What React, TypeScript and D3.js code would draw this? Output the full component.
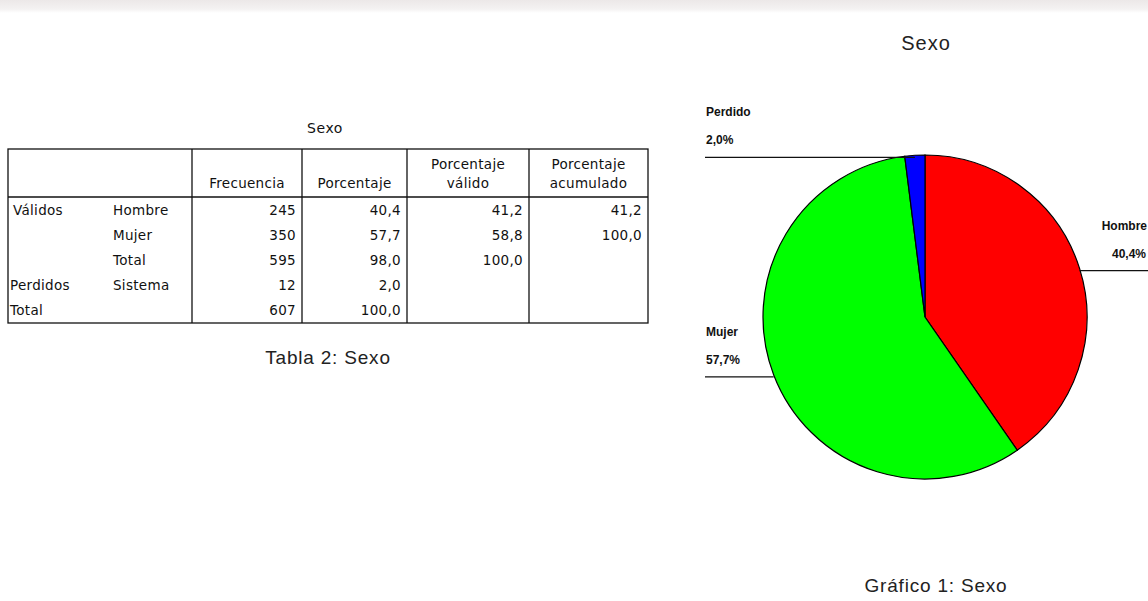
import React from "react";
import * as d3 from "d3";

const categories = ["Hombre", "Mujer", "Perdido"];
const piePercents = [40.4, 57.7, 2.0];
const pieLabels = ["40,4%", "57,7%", "2,0%"];
const pieColors = ["#ff0000", "#00ff00", "#0000ff"];

const headers = ["Frecuencia", "Porcentaje", "Porcentaje\nválido", "Porcentaje\nacumulado"];
const rowGroup = ["Válidos", "", "", "Perdidos", "Total"];
const rowSub = ["Hombre", "Mujer", "Total", "Sistema", ""];
const frecuencia = ["245", "350", "595", "12", "607"];
const porcentaje = ["40,4", "57,7", "98,0", "2,0", "100,0"];
const valido = ["41,2", "58,8", "100,0", "", ""];
const acumulado = ["41,2", "100,0", "", "", ""];

const W = 1148;
const H = 601;

export default function App() {
  // table geometry
  const tLeft = 8, tRight = 648, tTop = 149, hBottom = 197, tBottom = 323;
  const colEdges = [192, 302, 407, 529, tRight];
  const rowY = d3.scaleBand<number>().domain(d3.range(5)).range([hBottom, tBottom]);
  const cols = [frecuencia, porcentaje, valido, acumulado];
  const tableFont = "'DejaVu Sans', sans-serif";

  // pie
  const cx = 925, cy = 317, r = 162;
  const pie = d3.pie<number>().sort(null).value((d) => d);
  const arcs = pie(piePercents);
  const arc = d3.arc<d3.PieArcDatum<number>>().innerRadius(0).outerRadius(r);

  return (
    <svg width={W} height={H} style={{ position: "absolute", left: 0, top: 0, background: "#fff" }}>
      <defs>
        <linearGradient id="topfade" x1="0" y1="0" x2="0" y2="1">
          <stop offset="0" stopColor="#ece8e8" />
          <stop offset="0.7" stopColor="#f4f2f2" />
          <stop offset="1" stopColor="#ffffff" />
        </linearGradient>
      </defs>
      <rect x={0} y={0} width={W} height={H} fill="#fff" />
      <rect x={0} y={0} width={W} height={13} fill="url(#topfade)" />

      {/* Table */}
      <text x={325} y={133} textAnchor="middle" fontFamily={tableFont} fontSize={14} letterSpacing={0.6} fill="#111">
        Sexo
      </text>
      <rect x={tLeft} y={tTop} width={tRight - tLeft} height={tBottom - tTop} fill="none" stroke="#111" strokeWidth={1.3} />
      <line x1={tLeft} x2={tRight} y1={hBottom} y2={hBottom} stroke="#111" strokeWidth={1.3} />
      {colEdges.slice(0, 4).map((x, i) => (
        <line key={i} x1={x} x2={x} y1={tTop} y2={tBottom} stroke="#111" strokeWidth={1.3} />
      ))}
      {headers.map((h, i) => {
        const mid = (colEdges[i] + colEdges[i + 1]) / 2;
        const lines = h.split("\n");
        return (
          <text key={i} textAnchor="middle" fontFamily={tableFont} fontSize={13.5} letterSpacing={0.3} fill="#111">
            {lines.map((l, j) => (
              <tspan key={j} x={mid} y={188 - (lines.length - 1 - j) * 19}>
                {l}
              </tspan>
            ))}
          </text>
        );
      })}
      {rowGroup.map((g, i) => {
        const y = (rowY(i) as number) + rowY.bandwidth() / 2 + 5;
        return (
          <g key={i} fontFamily={tableFont} fontSize={13.5} letterSpacing={0.3} fill="#111">
            <text x={g === "Válidos" ? 13 : 10} y={y}>{g}</text>
            <text x={113} y={y}>{rowSub[i]}</text>
            {cols.map((c, k) => (
              <text key={k} x={colEdges[k + 1] - 6} y={y} textAnchor="end">
                {c[i]}
              </text>
            ))}
          </g>
        );
      })}
      <text x={328} y={364} textAnchor="middle" fontFamily="'Liberation Sans', Arial, sans-serif" fontSize={19} letterSpacing={0.8} fill="#222">
        Tabla 2: Sexo
      </text>

      {/* Pie chart */}
      <text x={926} y={50} textAnchor="middle" fontFamily="'Liberation Sans', Arial, sans-serif" fontSize={20} letterSpacing={1} fill="#222">
        Sexo
      </text>
      <g transform={`translate(${cx},${cy})`}>
        {arcs.map((a, i) => (
          <path key={i} d={arc(a) as string} fill={pieColors[i]} stroke="#000" strokeWidth={1.2} />
        ))}
      </g>
      {arcs.map((a, i) => {
        const mid = (a.startAngle + a.endAngle) / 2;
        const px = cx + r * Math.sin(mid);
        const py = cy - r * Math.cos(mid) + 2;
        const right = Math.sin(mid) > 0;
        const lx = right ? W : 705;
        return (
          <g key={i} fontFamily="'Liberation Sans', Arial, sans-serif" fontSize={12} fontWeight="bold" fill="#111">
            <line x1={px} x2={lx} y1={py} y2={py} stroke="#111" strokeWidth={1.3} />
            <text x={right ? W - 1 : 706} y={py - 41} textAnchor={right ? "end" : "start"}>
              {categories[i]}
            </text>
            <text x={right ? W - 2 : 706} y={py - 13} textAnchor={right ? "end" : "start"}>
              {pieLabels[i]}
            </text>
          </g>
        );
      })}
      <text x={936} y={592} textAnchor="middle" fontFamily="'Liberation Sans', Arial, sans-serif" fontSize={19} letterSpacing={0.8} fill="#222">
        Gráfico 1: Sexo
      </text>
    </svg>
  );
}
